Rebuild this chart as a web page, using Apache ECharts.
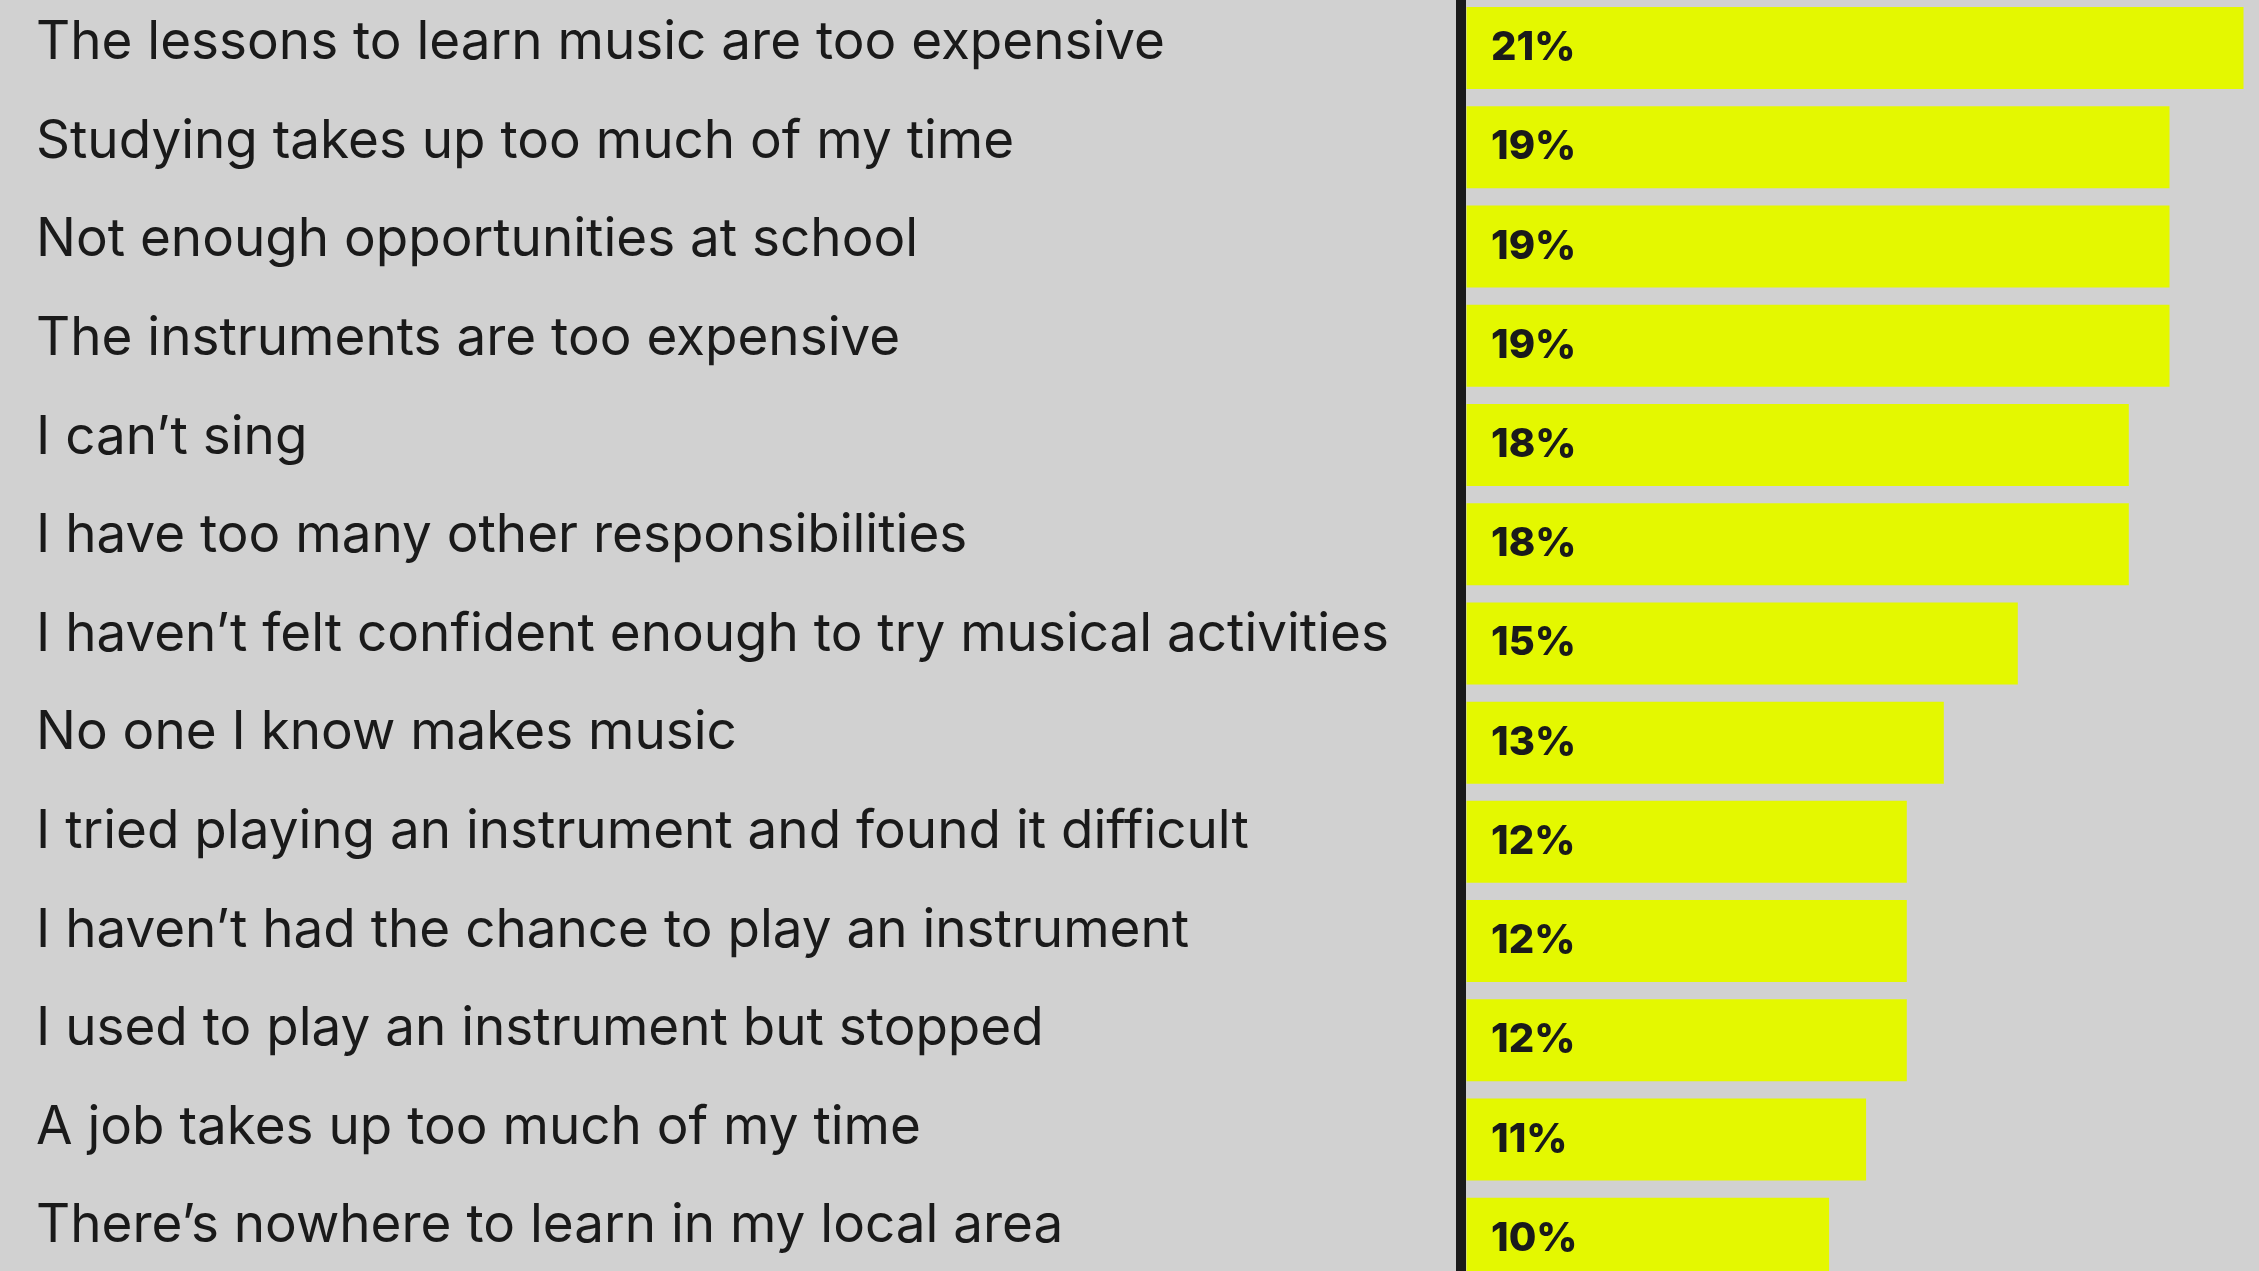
<!DOCTYPE html>
<html>
<head>
<meta charset="utf-8">
<script src="https://cdn.jsdelivr.net/npm/echarts@6/dist/echarts.min.js"></script>
<style>
html, body { margin: 0; padding: 0; background: #d1d1d1; }
#chart { width: 2259px; height: 1271px; }
</style>
</head>
<body>
<div id="chart"></div>
<script>
const categories = [
  "The lessons to learn music are too expensive",
  "Studying takes up too much of my time",
  "Not enough opportunities at school",
  "The instruments are too expensive",
  "I can’t sing",
  "I have too many other responsibilities",
  "I haven’t felt confident enough to try musical activities",
  "No one I know makes music",
  "I tried playing an instrument and found it difficult",
  "I haven’t had the chance to play an instrument",
  "I used to play an instrument but stopped",
  "A job takes up too much of my time",
  "There’s nowhere to learn in my local area"
];
const values = [21, 19, 19, 19, 17.9, 17.9, 14.9, 12.9, 11.9, 11.9, 11.9, 10.8, 9.8];
const valueLabels = ["21%", "19%", "19%", "19%", "18%", "18%", "15%", "13%", "12%", "12%", "12%", "11%", "10%"];

const chart = echarts.init(document.getElementById('chart'), null, { renderer: 'canvas' });
chart.setOption({
  animation: false,
  backgroundColor: '#d1d1d1',
  grid: [
    { left: 1466.5, width: 777, top: -1.6, height: 1290, containLabel: false, outerBoundsMode: 'none' },
    { left: 1466.5, width: 777, top: -6.1, height: 1281.9, containLabel: false, outerBoundsMode: 'none' }
  ],
  xAxis: [
    { gridIndex: 0, type: 'value', min: 0, max: 21, show: false, splitLine: { show: false } },
    { gridIndex: 1, type: 'value', min: 0, max: 1, show: false, splitLine: { show: false } }
  ],
  yAxis: [
    {
      gridIndex: 0,
      type: 'category',
      data: categories,
      inverse: true,
      offset: 5.5,
      axisLine: { show: true, onZero: false, lineStyle: { color: '#1a1a1a', width: 10 } },
      axisTick: { show: false },
      axisLabel: { show: false }
    },
    {
      gridIndex: 1,
      type: 'category',
      data: categories,
      inverse: true,
      offset: 5.5,
      axisLine: { show: false, onZero: false },
      axisTick: { show: false },
      splitLine: { show: false },
      axisLabel: {
        align: 'left',
        verticalAlign: 'middle',
        margin: 1425,
        fontFamily: 'Inter',
        fontSize: 53,
        color: '#1a1a1a'
      }
    }
  ],
  series: [{
    type: 'bar',
    xAxisIndex: 0,
    yAxisIndex: 0,
    data: values,
    barWidth: 82,
    itemStyle: { color: '#e4f800' },
    label: {
      show: true,
      position: 'insideLeft',
      distance: 24.5,
      fontFamily: 'Inter',
      fontWeight: 800,
      fontSize: 40,
      color: '#1a1a1a',
      formatter: function (p) { return valueLabels[p.dataIndex]; }
    }
  }]
});
</script>
</body>
</html>
